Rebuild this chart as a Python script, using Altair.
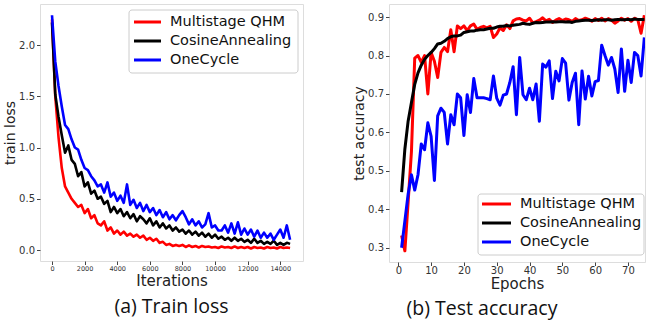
import altair as alt
import pandas as pd

names = ["Multistage QHM", "CosineAnnealing", "OneCycle"]
colors = ["#ff0000", "#000000", "#0000ff"]

iterations = list(range(0, 14601, 200))
loss_qhm = [2.25, 1.50, 1.10, 0.80, 0.62, 0.56, 0.50, 0.46, 0.42, 0.44,
            0.36, 0.40, 0.31, 0.34, 0.26, 0.24, 0.28, 0.19, 0.22, 0.16,
            0.19, 0.15, 0.18, 0.14, 0.16, 0.13, 0.15, 0.12, 0.14, 0.10,
            0.12, 0.09, 0.11, 0.07, 0.08, 0.05, 0.06, 0.04, 0.05, 0.04,
            0.05, 0.03, 0.045, 0.03, 0.04, 0.025, 0.04, 0.03, 0.035, 0.025,
            0.03, 0.02, 0.035, 0.025, 0.03, 0.02, 0.035, 0.02, 0.03, 0.02,
            0.03, 0.015, 0.03, 0.02, 0.025, 0.015, 0.03, 0.02, 0.025, 0.015,
            0.03, 0.02, 0.025, 0.02]
loss_cos = [2.22, 1.52, 1.30, 1.12, 0.95, 1.02, 0.88, 0.84, 0.72, 0.76,
            0.62, 0.66, 0.55, 0.58, 0.50, 0.52, 0.45, 0.48, 0.37, 0.42,
            0.36, 0.40, 0.33, 0.37, 0.31, 0.35, 0.28, 0.33, 0.30, 0.26,
            0.31, 0.24, 0.28, 0.22, 0.26, 0.21, 0.24, 0.19, 0.22, 0.18,
            0.20, 0.16, 0.19, 0.15, 0.18, 0.14, 0.17, 0.13, 0.16, 0.12,
            0.15, 0.11, 0.13, 0.10, 0.12, 0.09, 0.12, 0.09, 0.11, 0.08,
            0.10, 0.07, 0.11, 0.07, 0.09, 0.06, 0.08, 0.06, 0.09, 0.05,
            0.07, 0.05, 0.07, 0.06]
loss_one = [2.29, 1.84, 1.60, 1.40, 1.22, 1.18, 1.08, 1.00, 0.98, 0.88,
            0.80, 0.78, 0.72, 0.68, 0.62, 0.64, 0.56, 0.66, 0.52, 0.56,
            0.48, 0.53, 0.46, 0.64, 0.44, 0.49, 0.41, 0.46, 0.38, 0.44,
            0.37, 0.41, 0.34, 0.39, 0.32, 0.37, 0.30, 0.34, 0.29, 0.34,
            0.38, 0.32, 0.25, 0.30, 0.24, 0.28, 0.22, 0.25, 0.36, 0.22,
            0.24, 0.19, 0.19, 0.24, 0.17, 0.26, 0.16, 0.27, 0.15, 0.21,
            0.15, 0.20, 0.13, 0.19, 0.12, 0.17, 0.12, 0.16, 0.10, 0.15,
            0.20, 0.12, 0.24, 0.10]

epochs = list(range(1, 76))
acc_qhm = [0.332, 0.292, 0.42, 0.55, 0.793, 0.80, 0.782, 0.80, 0.70, 0.808,
           0.785, 0.743, 0.808, 0.821, 0.81, 0.867, 0.81, 0.877, 0.87, 0.877,
           0.865, 0.877, 0.882, 0.868, 0.873, 0.876, 0.872, 0.876, 0.847, 0.856,
           0.872, 0.865, 0.88, 0.87, 0.89, 0.895, 0.896, 0.892, 0.89, 0.897,
           0.885, 0.888, 0.892, 0.898, 0.89, 0.894, 0.886, 0.892, 0.896, 0.891,
           0.895, 0.893, 0.889, 0.896, 0.891, 0.893, 0.897, 0.894, 0.889, 0.896,
           0.891, 0.897, 0.89, 0.896, 0.892, 0.884, 0.89, 0.897, 0.892, 0.896,
           0.889, 0.897, 0.893, 0.858, 0.905]
acc_cos = [0.445, 0.557, 0.63, 0.678, 0.725, 0.755, 0.775, 0.79, 0.80, 0.808,
           0.818, 0.83, 0.832, 0.837, 0.844, 0.849, 0.851, 0.851, 0.853, 0.86,
           0.862, 0.864, 0.864, 0.866, 0.867, 0.867, 0.869, 0.871, 0.871, 0.874,
           0.876, 0.876, 0.878, 0.877, 0.879, 0.88, 0.881, 0.884, 0.882, 0.881,
           0.884, 0.886, 0.885, 0.886, 0.887, 0.887, 0.888, 0.887, 0.888, 0.888,
           0.887, 0.888, 0.886, 0.889, 0.890, 0.891, 0.892, 0.892, 0.891, 0.892,
           0.893, 0.892, 0.893, 0.893, 0.892, 0.893, 0.894, 0.893, 0.893, 0.894,
           0.893, 0.895, 0.894, 0.894, 0.894]
acc_one = [0.30, 0.37, 0.44, 0.49, 0.45, 0.49, 0.57, 0.555, 0.625, 0.59,
           0.475, 0.643, 0.663, 0.652, 0.57, 0.646, 0.62, 0.70, 0.69, 0.592,
           0.698, 0.652, 0.74, 0.69, 0.69, 0.69, 0.688, 0.685, 0.747, 0.689,
           0.671, 0.697, 0.70, 0.73, 0.771, 0.646, 0.795, 0.698, 0.685, 0.715,
           0.685, 0.726, 0.629, 0.778, 0.77, 0.786, 0.688, 0.759, 0.734, 0.792,
           0.78, 0.684, 0.73, 0.754, 0.62, 0.76, 0.687, 0.746, 0.695, 0.732,
           0.735, 0.827, 0.80, 0.775, 0.795, 0.765, 0.704, 0.817, 0.707, 0.788,
           0.73, 0.808, 0.80, 0.747, 0.847]

loss_df = pd.concat([
    pd.DataFrame({"iter": iterations, "value": v, "name": n})
    for n, v in zip(names, [loss_qhm, loss_cos, loss_one])
])
acc_df = pd.concat([
    pd.DataFrame({"epoch": epochs, "value": v, "name": n})
    for n, v in zip(names, [acc_qhm, acc_cos, acc_one])
])
leg_df = pd.DataFrame({"name": names, "row": [0, 1, 2]})

cscale = alt.Scale(domain=names, range=colors)
FONT = "DejaVu Sans"
LABEL_COLOR = "#333333"


def axis(title, values, fmt, label_size, title_size, title_pad, label_pad, **kw):
    return alt.Axis(title=title, values=values, format=fmt, labelFontSize=label_size,
                    labelFont=FONT, labelColor=LABEL_COLOR, titleFont=FONT,
                    titleFontSize=title_size, titleFontWeight="normal",
                    titleColor="#222222", titlePadding=title_pad,
                    tickSize=3.5, tickColor="#444444", domain=False,
                    grid=False, labelPadding=label_pad, **kw)


def panel(df, xfield, xdom, ydom, xaxis, yaxis, width, height, sw,
          box, line_x, text_x, row_y0, row_gap):
    layers = []
    for n in names:
        layers.append(
            alt.Chart(df).transform_filter(alt.datum.name == n)
            .mark_line(strokeWidth=sw, clip=True, strokeJoin="round")
            .encode(
                x=alt.X(f"{xfield}:Q", scale=alt.Scale(domain=xdom, nice=False, zero=False),
                        axis=xaxis),
                y=alt.Y("value:Q", scale=alt.Scale(domain=ydom, nice=False, zero=False),
                        axis=yaxis),
                color=alt.Color("name:N", scale=cscale, legend=None),
            )
        )
    layers.append(
        alt.Chart(leg_df).transform_filter(alt.datum.row == 0).mark_rect(
            fill="white", fillOpacity=0.8, stroke="#cccccc", strokeWidth=1, cornerRadius=3
        ).encode(x=alt.value(box[0]), x2=alt.value(box[1]),
                 y=alt.value(box[2]), y2=alt.value(box[3]))
    )
    for i, n in enumerate(names):
        py = row_y0 + i * row_gap
        layers.append(
            alt.Chart(leg_df).transform_filter(alt.datum.name == n)
            .mark_rule(strokeWidth=3).encode(
                x=alt.value(line_x[0]), x2=alt.value(line_x[1]),
                y=alt.value(py),
                color=alt.Color("name:N", scale=cscale, legend=None),
            )
        )
        layers.append(
            alt.Chart(leg_df).transform_filter(alt.datum.name == n)
            .mark_text(align="left", baseline="middle", font=FONT, fontSize=14.5,
                       color="#111111").encode(
                x=alt.value(text_x), y=alt.value(py), text="name:N",
            )
        )
    return alt.layer(*layers).properties(width=width, height=height)


left = panel(
    loss_df, "iter", [-736, 15392], [-0.107, 2.4],
    axis("Iterations", [0, 2000, 4000, 6000, 8000, 10000, 12000, 14000], "d", 6.5, 15, 0, 0.5,
         titleY=12.5, titleBaseline="top"),
    axis("train loss", [0.0, 0.5, 1.0, 1.5, 2.0], ".1f", 10, 14, 1, 2),
    263, 257, 2.6,
    (89, 258, 6, 69), (94, 121), 130, 18, 19,
).properties(title=alt.TitleParams("(a) Train loss", orient="bottom", font="Open Sans",
                                   fontSize=19.5, fontWeight="normal", color="#111111",
                                   offset=9, frame="group"))

right = panel(
    acc_df, "epoch", [-2.84, 75.2], [0.263, 0.934],
    axis("Epochs", [0, 10, 20, 30, 40, 50, 60, 70], "d", 10, 15, 0, 0,
         titleY=14, titleBaseline="top"),
    axis("test accuracy", [0.3, 0.4, 0.5, 0.6, 0.7, 0.8, 0.9], ".1f", 10, 14, 1, 2),
    256, 258, 3,
    (89, 255, 190, 251), (93, 122), 131, 200, 19,
).properties(title=alt.TitleParams("(b) Test accuracy", orient="bottom", font="Open Sans",
                                   fontSize=19.5, fontWeight="normal", color="#111111",
                                   offset=9, dx=-35, frame="group"))

chart = alt.hconcat(left, right, spacing=48).properties(
    padding={"left": 3, "top": 3, "right": 0, "bottom": 6}
).configure_view(stroke="#8c8c8c", strokeWidth=1).configure(background="white")

chart.save("out.html", embed_options={"renderer": "svg", "actions": False})
